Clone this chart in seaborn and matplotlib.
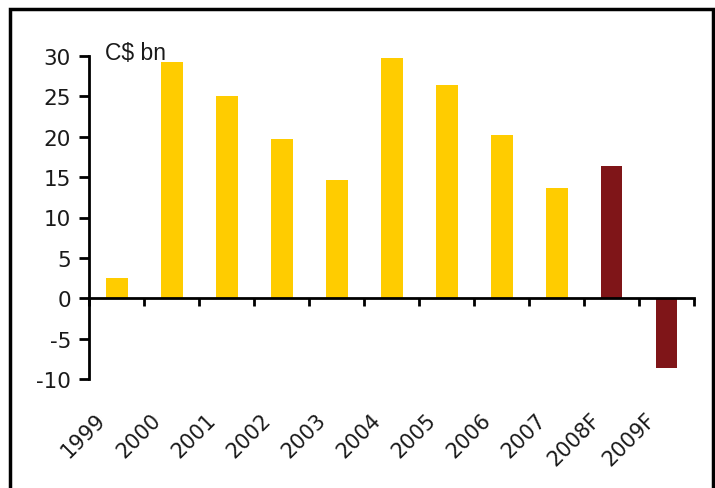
import matplotlib
matplotlib.use("Agg")
import matplotlib.pyplot as plt
from matplotlib.patches import Rectangle
import seaborn as sns
import pandas as pd

categories = ["1999", "2000", "2001", "2002", "2003", "2004", "2005",
              "2006", "2007", "2008F", "2009F"]
values = [2.5, 29.2, 25.0, 19.7, 14.6, 29.7, 26.4, 20.2, 13.7, 16.4, -8.6]
kinds = ["Actual"] * 9 + ["Forecast"] * 2
yticks = [-10, -5, 0, 5, 10, 15, 20, 25, 30]
unit_label = "C$ bn"

palette = {"Actual": "#FFCC00", "Forecast": "#7F1518"}

sns.set_style("white")
plt.rcParams["font.family"] = ["DejaVu Sans"]

df = pd.DataFrame({"cat": categories, "val": values, "kind": kinds})

fig = plt.figure(figsize=(7.15, 4.89), dpi=100)
ax = fig.add_axes([89 / 715, 1 - 380 / 489, (694 - 89) / 715, (380 - 57) / 489])

sns.barplot(data=df, x="cat", y="val", hue="kind", palette=palette,
            width=0.4, dodge=False, legend=False, ax=ax, saturation=1,
            linewidth=0)

ax.set_xlim(-0.5, len(categories) - 0.5)
ax.set_ylim(-10, 30)
ax.set_yticks(yticks)
ax.set_yticklabels([str(t) for t in yticks], fontsize=15.5, color="#1a1a1a")
ax.tick_params(axis="y", direction="out", length=7, width=2, color="black", pad=6, left=True)
ax.set_xlabel("")
ax.set_ylabel("")

for s in ["top", "right"]:
    ax.spines[s].set_visible(False)
ax.spines["left"].set_linewidth(2)
ax.spines["left"].set_color("black")
ax.spines["bottom"].set_position(("data", 0))
ax.spines["bottom"].set_linewidth(2)
ax.spines["bottom"].set_color("black")

bounds = [i - 0.5 for i in range(len(categories) + 1)]
ax.set_xticks(bounds)
ax.set_xticklabels([""] * len(bounds))
ax.tick_params(axis="x", direction="out", length=6, width=2, color="black", bottom=True)

for i, lab in enumerate(categories):
    ax.annotate(lab, xy=(i, -10), xycoords="data", xytext=(-14, -37),
                textcoords="offset pixels", rotation=45, ha="right", va="center",
                rotation_mode="anchor", fontsize=15, color="#1a1a1a",
                annotation_clip=False)

ax.text(0.027, 1.01, unit_label, transform=ax.transAxes, fontsize=16.5,
        family="Liberation Sans", color="#1a1a1a", va="center", ha="left")

ax.grid(False)

fig.patches.append(Rectangle((10 / 715, -0.05), (713 - 10) / 715, 1.05 - 10 / 489,
                             transform=fig.transFigure, fill=False,
                             edgecolor="black", linewidth=2.5, figure=fig))

fig.savefig("out.png", dpi=100)
